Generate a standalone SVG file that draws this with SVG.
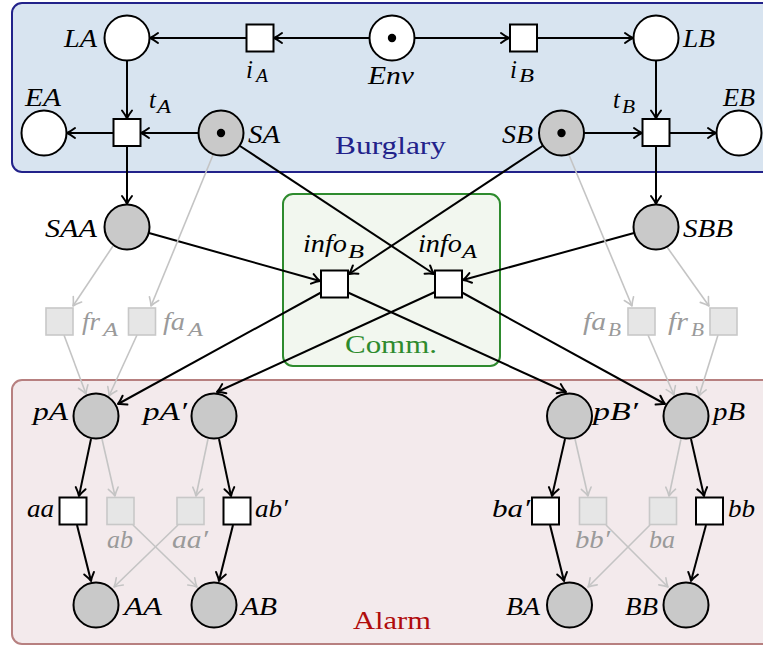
<svg xmlns="http://www.w3.org/2000/svg" width="763" height="646" viewBox="0 0 763 646">
<style>
.lb{font-family:"Liberation Serif",serif;font-style:italic;font-size:25px;fill:#000}
.sb{font-family:"Liberation Serif",serif;font-style:italic;font-size:18px;fill:#000}
.g{fill:#9a9a9a}
.t{fill:#fff;stroke:#000;stroke-width:2}
.tg{fill:#e6e6e6;stroke:#c8c8c8;stroke-width:1.6}
.pw{fill:#fff;stroke:#000;stroke-width:2}
.pg{fill:#c9c9c9;stroke:#000;stroke-width:2}
.a{stroke:#000;stroke-width:2;fill:none;marker-end:url(#ab)}
.ag{stroke:#c4c4c4;stroke-width:1.6;fill:none;marker-end:url(#ag)}
.up{font-family:"Liberation Serif",serif;font-size:26px}
</style>
<defs>
<marker id="ab" viewBox="-10 -7 12 14" refX="0" refY="0" markerWidth="12" markerHeight="14" markerUnits="userSpaceOnUse" orient="auto">
<path d="M-8,-5 Q-3,-1.2 0,0 Q-3,1.2 -8,5" fill="none" stroke="#000" stroke-width="2" stroke-linecap="round" stroke-linejoin="round"/>
</marker>
<marker id="ag" viewBox="-10 -7 12 14" refX="0" refY="0" markerWidth="12" markerHeight="14" markerUnits="userSpaceOnUse" orient="auto">
<path d="M-8,-5 Q-3,-1.2 0,0 Q-3,1.2 -8,5" fill="none" stroke="#c4c4c4" stroke-width="1.6" stroke-linecap="round" stroke-linejoin="round"/>
</marker>
</defs>
<g id="regions">
<rect id="burglary" x="12" y="3" width="762" height="169" rx="10" fill="#d8e4f0" stroke="#22228a" stroke-width="2"/>
<rect id="alarm" x="12" y="380" width="762" height="264" rx="10" fill="#f3eaec" stroke="#b78080" stroke-width="2"/>
<rect id="comm" x="283" y="194" width="217" height="172" rx="10" fill="#f2f7ef" stroke="#2e8b2e" stroke-width="2"/>
<text class="up" x="335" y="154" textLength="111" lengthAdjust="spacingAndGlyphs" fill="#22228a">Burglary</text>
<text class="up" x="345" y="353" textLength="92" lengthAdjust="spacingAndGlyphs" fill="#2e8b2e">Comm.</text>
<text class="up" x="353" y="629" textLength="78" lengthAdjust="spacingAndGlyphs" fill="#b00c0c">Alarm</text>
</g>
<g id="connectors">
<line class="a" x1="369.5" y1="38" x2="274" y2="38"/>
<line class="a" x1="246" y1="38" x2="150" y2="38"/>
<line class="a" x1="414.5" y1="38" x2="509" y2="38"/>
<line class="a" x1="537" y1="38" x2="633" y2="38"/>
<line class="a" x1="127" y1="60.5" x2="127" y2="118.5"/>
<line class="a" x1="656" y1="60.5" x2="656" y2="118.5"/>
<line class="a" x1="198.5" y1="133" x2="141" y2="133"/>
<line class="a" x1="113" y1="133" x2="67" y2="133"/>
<line class="a" x1="584" y1="133" x2="642" y2="133"/>
<line class="a" x1="670" y1="133" x2="716" y2="133"/>
<line class="a" x1="127" y1="146" x2="127" y2="204"/>
<line class="a" x1="656" y1="146" x2="656" y2="204"/>
<line class="a" x1="240" y1="146" x2="434" y2="274"/>
<line class="a" x1="542.5" y1="146" x2="349" y2="274"/>
<line class="a" x1="149" y1="233" x2="320" y2="281"/>
<line class="a" x1="634" y1="233" x2="463" y2="280"/>
<line class="a" x1="321" y1="292.5" x2="118" y2="404"/>
<line class="a" x1="435" y1="292" x2="217" y2="392"/>
<line class="a" x1="348" y1="292.5" x2="566" y2="392"/>
<line class="a" x1="462" y1="292.5" x2="665" y2="404"/>
<line class="a" x1="91" y1="439" x2="79" y2="496"/>
<line class="a" x1="77" y1="525" x2="91" y2="581"/>
<line class="a" x1="219" y1="439" x2="231" y2="496"/>
<line class="a" x1="233" y1="525" x2="219" y2="581"/>
<line class="a" x1="565" y1="439" x2="552" y2="496"/>
<line class="a" x1="550" y1="525" x2="564" y2="581"/>
<line class="a" x1="691" y1="439" x2="704" y2="496"/>
<line class="a" x1="706" y1="525" x2="691" y2="581"/>
<line class="ag" x1="113" y1="246" x2="73" y2="306"/>
<line class="ag" x1="213" y1="155" x2="151" y2="306"/>
<line class="ag" x1="64" y1="335" x2="86" y2="394"/>
<line class="ag" x1="137" y1="335" x2="109" y2="396"/>
<line class="ag" x1="102" y1="439" x2="115" y2="496"/>
<line class="ag" x1="133" y1="525" x2="197" y2="587"/>
<line class="ag" x1="208" y1="439" x2="196" y2="496"/>
<line class="ag" x1="178" y1="525" x2="114" y2="587"/>
<line class="ag" x1="569" y1="155" x2="632" y2="306"/>
<line class="ag" x1="667" y1="247" x2="709" y2="306"/>
<line class="ag" x1="648" y1="335" x2="674" y2="395"/>
<line class="ag" x1="718" y1="335" x2="699" y2="396"/>
<line class="ag" x1="575" y1="439" x2="588" y2="496"/>
<line class="ag" x1="606" y1="525" x2="668" y2="587"/>
<line class="ag" x1="681" y1="439" x2="669" y2="496"/>
<line class="ag" x1="650" y1="525" x2="588" y2="587"/>
</g>
<g id="LA"><circle class="pw" cx="127" cy="38" r="22.5"/><text class="lb" x="64" y="47" textLength="33" lengthAdjust="spacingAndGlyphs">LA</text></g>
<g id="Env"><circle class="pw" cx="392" cy="38" r="22.5"/><circle cx="392" cy="38" r="4.2" fill="#000"/><text class="lb" x="368" y="84" textLength="46" lengthAdjust="spacingAndGlyphs">Env</text></g>
<g id="LB"><circle class="pw" cx="656" cy="38" r="22.5"/><text class="lb" x="683" y="47" textLength="32" lengthAdjust="spacingAndGlyphs">LB</text></g>
<g id="iA"><rect class="t" x="246.5" y="24.5" width="27" height="27"/><text class="lb" x="246" y="78">i</text><text class="sb" x="256" y="82" textLength="12" lengthAdjust="spacingAndGlyphs">A</text></g>
<g id="iB"><rect class="t" x="510" y="24.5" width="27" height="27"/><text class="lb" x="510" y="78">i</text><text class="sb" x="519" y="82" textLength="15" lengthAdjust="spacingAndGlyphs">B</text></g>
<g id="EA"><circle class="pw" cx="44" cy="133" r="22.5"/><text class="lb" x="25" y="106" textLength="36" lengthAdjust="spacingAndGlyphs">EA</text></g>
<g id="tA"><rect class="t" x="113.5" y="119" width="27" height="27"/><text class="lb" x="149" y="108">t</text><text class="sb" x="157" y="113" textLength="14" lengthAdjust="spacingAndGlyphs">A</text></g>
<g id="SA"><circle class="pg" cx="221" cy="133" r="22.5"/><circle cx="221" cy="133" r="4.2" fill="#000"/><text class="lb" x="248" y="143" textLength="32" lengthAdjust="spacingAndGlyphs">SA</text></g>
<g id="SB"><circle class="pg" cx="561.5" cy="133" r="22.5"/><circle cx="561.5" cy="133" r="4.2" fill="#000"/><text class="lb" x="502" y="143" textLength="31" lengthAdjust="spacingAndGlyphs">SB</text></g>
<g id="tB"><rect class="t" x="642.5" y="119" width="27" height="27"/><text class="lb" x="613" y="108">t</text><text class="sb" x="622" y="113" textLength="13" lengthAdjust="spacingAndGlyphs">B</text></g>
<g id="EB"><circle class="pw" cx="739" cy="133" r="22.5"/><text class="lb" x="723" y="106" textLength="32" lengthAdjust="spacingAndGlyphs">EB</text></g>
<g id="SAA"><circle class="pg" cx="127" cy="227" r="22.5"/><text class="lb" x="45" y="237" textLength="52" lengthAdjust="spacingAndGlyphs">SAA</text></g>
<g id="SBB"><circle class="pg" cx="656" cy="227" r="22.5"/><text class="lb" x="683" y="237" textLength="50" lengthAdjust="spacingAndGlyphs">SBB</text></g>
<g id="infoB"><rect class="t" x="321" y="270.5" width="27" height="27"/><text class="lb" x="303" y="252" textLength="44" lengthAdjust="spacingAndGlyphs">info</text><text class="sb" x="348" y="258" textLength="16" lengthAdjust="spacingAndGlyphs">B</text></g>
<g id="infoA"><rect class="t" x="435" y="270.5" width="27" height="27"/><text class="lb" x="418" y="252" textLength="44" lengthAdjust="spacingAndGlyphs">info</text><text class="sb" x="462" y="258" textLength="15" lengthAdjust="spacingAndGlyphs">A</text></g>
<g id="frA"><rect class="tg" x="46" y="308" width="27" height="27"/><text class="lb g" x="82" y="330" textLength="18" lengthAdjust="spacingAndGlyphs">fr</text><text class="sb g" x="103" y="336" textLength="15" lengthAdjust="spacingAndGlyphs">A</text></g>
<g id="faA"><rect class="tg" x="128.5" y="308" width="27" height="27"/><text class="lb g" x="163" y="330" textLength="22" lengthAdjust="spacingAndGlyphs">fa</text><text class="sb g" x="188" y="336" textLength="15" lengthAdjust="spacingAndGlyphs">A</text></g>
<g id="faB"><rect class="tg" x="628" y="308" width="27" height="27"/><text class="lb g" x="583" y="330" textLength="23" lengthAdjust="spacingAndGlyphs">fa</text><text class="sb g" x="608" y="336" textLength="13" lengthAdjust="spacingAndGlyphs">B</text></g>
<g id="frB"><rect class="tg" x="710" y="308" width="27" height="27"/><text class="lb g" x="668" y="330" textLength="20" lengthAdjust="spacingAndGlyphs">fr</text><text class="sb g" x="691" y="336" textLength="13" lengthAdjust="spacingAndGlyphs">B</text></g>
<g id="pA"><circle class="pg" cx="96" cy="416" r="22.5"/><text class="lb" x="33" y="420" textLength="35" lengthAdjust="spacingAndGlyphs">pA</text></g>
<g id="pA2"><circle class="pg" cx="214" cy="416" r="22.5"/><text class="lb" x="143" y="420" textLength="44" lengthAdjust="spacingAndGlyphs">pA′</text></g>
<g id="pB2"><circle class="pg" cx="569.5" cy="416" r="22.5"/><text class="lb" x="593" y="420" textLength="45" lengthAdjust="spacingAndGlyphs">pB′</text></g>
<g id="pB"><circle class="pg" cx="686" cy="416" r="22.5"/><text class="lb" x="713" y="420" textLength="32" lengthAdjust="spacingAndGlyphs">pB</text></g>
<g id="aa"><rect class="t" x="59.5" y="497.5" width="27" height="27"/><text class="lb" x="27" y="517" textLength="27" lengthAdjust="spacingAndGlyphs">aa</text></g>
<g id="ab"><rect class="tg" x="107" y="497.5" width="27" height="27"/><text class="lb g" x="107" y="548" textLength="26" lengthAdjust="spacingAndGlyphs">ab</text></g>
<g id="aa2"><rect class="tg" x="177" y="497.5" width="27" height="27"/><text class="lb g" x="172" y="548" textLength="36" lengthAdjust="spacingAndGlyphs">aa′</text></g>
<g id="ab2"><rect class="t" x="223.5" y="497.5" width="27" height="27"/><text class="lb" x="255" y="517" textLength="33" lengthAdjust="spacingAndGlyphs">ab′</text></g>
<g id="ba2"><rect class="t" x="532" y="497.5" width="27" height="27"/><text class="lb" x="492" y="517" textLength="38" lengthAdjust="spacingAndGlyphs">ba′</text></g>
<g id="bb2"><rect class="tg" x="579.5" y="497.5" width="27" height="27"/><text class="lb g" x="575" y="548" textLength="35" lengthAdjust="spacingAndGlyphs">bb′</text></g>
<g id="ba"><rect class="tg" x="649.5" y="497.5" width="27" height="27"/><text class="lb g" x="649" y="548" textLength="26" lengthAdjust="spacingAndGlyphs">ba</text></g>
<g id="bb"><rect class="t" x="696" y="497.5" width="27" height="27"/><text class="lb" x="728" y="517" textLength="27" lengthAdjust="spacingAndGlyphs">bb</text></g>
<g id="AA"><circle class="pg" cx="96" cy="605" r="22.5"/><text class="lb" x="124" y="615" textLength="38" lengthAdjust="spacingAndGlyphs">AA</text></g>
<g id="AB"><circle class="pg" cx="214" cy="605" r="22.5"/><text class="lb" x="241" y="615" textLength="36" lengthAdjust="spacingAndGlyphs">AB</text></g>
<g id="BA"><circle class="pg" cx="569.5" cy="605" r="22.5"/><text class="lb" x="506" y="615" textLength="34" lengthAdjust="spacingAndGlyphs">BA</text></g>
<g id="BB"><circle class="pg" cx="686" cy="605" r="22.5"/><text class="lb" x="625" y="615" textLength="33" lengthAdjust="spacingAndGlyphs">BB</text></g>
</svg>
